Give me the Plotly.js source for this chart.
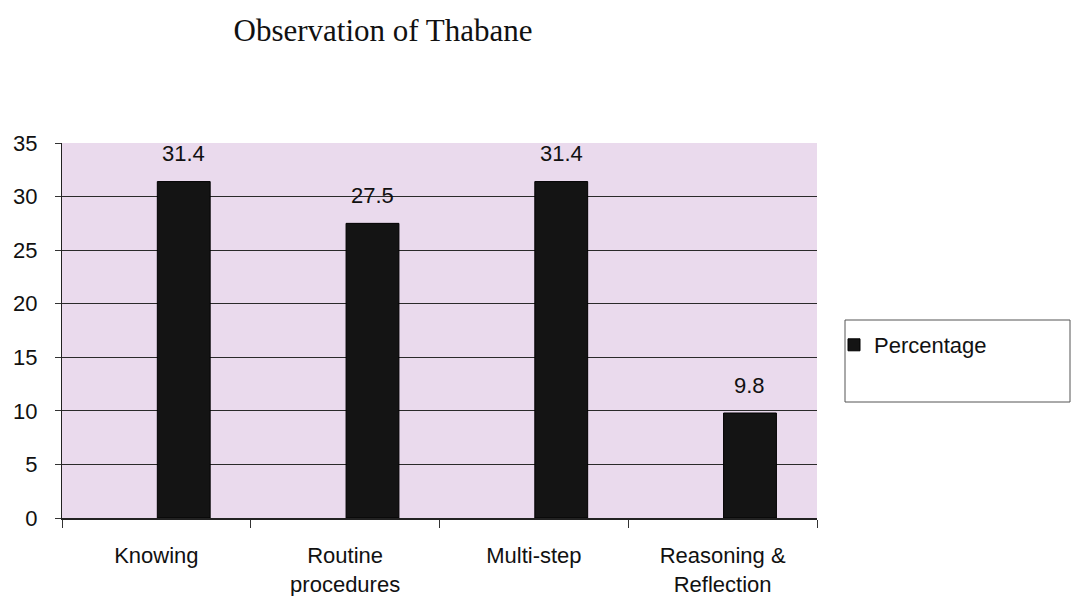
<!DOCTYPE html>
<html>
<head>
<meta charset="utf-8">
<script src="https://cdn.plot.ly/plotly-3.0.1.min.js"></script>
<style>html,body{margin:0;padding:0;background:#fff;}#chart{width:1071px;height:596px;}</style>
</head>
<body>
<div id="chart"></div>
<script>
var categories = ["Knowing", "Routine<br>procedures", "Multi-step", "Reasoning &<br>Reflection"];
var values = [31.4, 27.5, 31.4, 9.8];
var valueLabels = ["31.4", "27.5", "31.4", "9.8"];
var seriesName = "Percentage";
var titleText = "Observation of Thabane";
var yTicks = [0, 5, 10, 15, 20, 25, 30, 35];

var barOffset = 0.005, barWidth = 0.28;
var sans = "Liberation Sans, Arial, sans-serif";

var trace = {
  type: "bar",
  x: categories,
  y: values,
  name: seriesName,
  offset: barOffset,
  width: barWidth,
  marker: {color: "#141414", line: {color: "#000", width: 1}},
  showlegend: true,
  hoverinfo: "none"
};

var annotations = values.map(function (v, i) {
  return {
    x: i + barOffset + barWidth / 2,
    y: v,
    xref: "x", yref: "y",
    text: valueLabels[i],
    showarrow: false,
    yanchor: "middle",
    yshift: 28,
    font: {family: sans, size: 22, color: "#111"}
  };
});

var layout = {
  width: 1071, height: 596,
  margin: {l: 62, r: 254, t: 143, b: 78, pad: 0},
  paper_bgcolor: "#ffffff",
  plot_bgcolor: "#eadaed",
  title: {
    text: titleText,
    x: 383 / 1071, xref: "container", xanchor: "center",
    y: 1 - 30 / 596, yref: "container", yanchor: "middle",
    font: {family: "Liberation Serif, Times New Roman, serif", size: 31, color: "#111"}
  },
  font: {family: sans, size: 22, color: "#111"},
  bargap: 0,
  xaxis: {
    type: "category",
    tickson: "boundaries",
    ticks: "outside", ticklen: 8, tickcolor: "#333", tickwidth: 1,
    ticklabelstandoff: 17,
    showline: true, linecolor: "#222", linewidth: 1.5,
    showgrid: false,
    tickfont: {family: sans, size: 22, color: "#111"},
    range: [-0.5, 3.5],
    fixedrange: true
  },
  yaxis: {
    range: [0, 35],
    tickvals: yTicks,
    ticks: "outside", ticklen: 6, tickcolor: "#333",
    ticklabelstandoff: 13,
    showline: true, linecolor: "#222", linewidth: 1,
    showgrid: true, gridcolor: "#2a2a2a", gridwidth: 1,
    zeroline: false,
    tickfont: {family: sans, size: 22, color: "#111"},
    fixedrange: true
  },
  legend: {
    x: 834 / 1071, xref: "container",
    y: 1 - 324 / 596, yref: "container",
    xanchor: "left", yanchor: "top",
    bgcolor: "rgba(0,0,0,0)",
    borderwidth: 0,
    font: {family: sans, size: 22, color: "#111"},
    itemwidth: 30
  },
  shapes: [{
    type: "rect", xref: "paper", yref: "paper",
    x0: (845 - 62) / 755, x1: (1070 - 62) / 755,
    y0: (518 - 402) / 375, y1: (518 - 320) / 375,
    line: {color: "#555", width: 1}, fillcolor: "rgba(0,0,0,0)"
  }],
  annotations: annotations
};

Plotly.newPlot("chart", [trace], layout, {displayModeBar: false, staticPlot: true});
</script>
</body>
</html>
